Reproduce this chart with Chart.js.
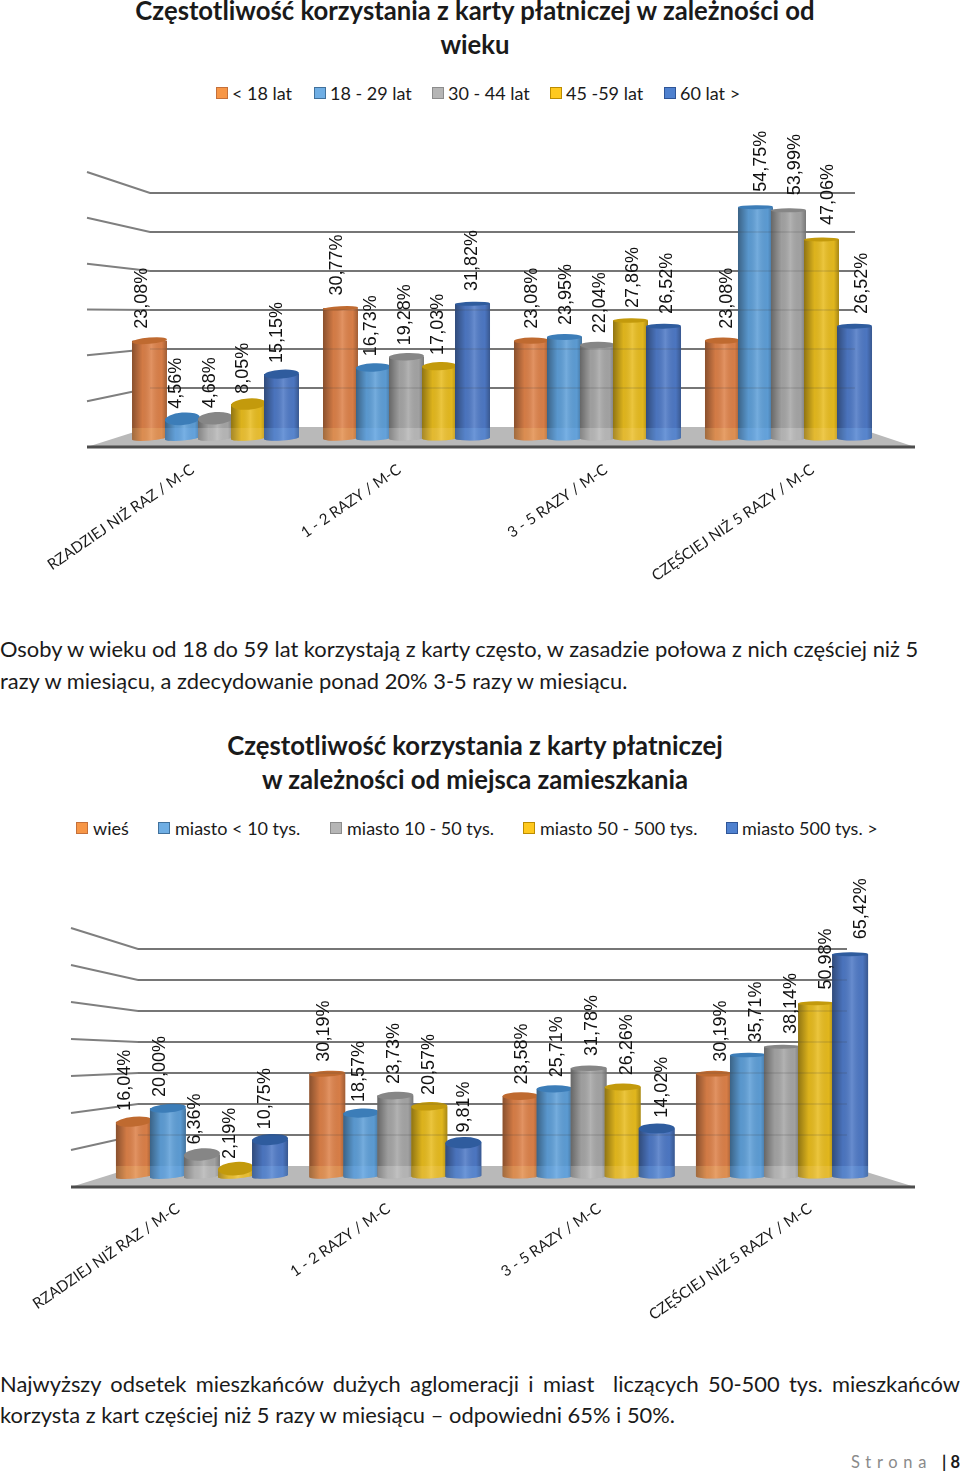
<!DOCTYPE html>
<html lang="pl">
<head>
<meta charset="utf-8">
<title>Częstotliwość korzystania z karty płatniczej</title>
<script src="https://cdn.jsdelivr.net/npm/chart.js@4/dist/chart.umd.min.js"></script>
<style>
html, body { margin: 0; padding: 0; background: #fff; }
#page { position: relative; width: 960px; height: 1473px; overflow: hidden; font-family: Lato, sans-serif; color: #1a1a1a; }
#page canvas { position: absolute; left: 0; }
.line { position: absolute; left: 0; width: 960px; white-space: nowrap; font-size: 21.9px; line-height: 30px; }
.title { text-align: center; font-weight: 700; font-size: 25.7px; line-height: 34px; width: 950px; }
.just { text-align: justify; text-align-last: justify; white-space: normal; }
.legend { position: absolute; height: 24px; white-space: nowrap; font-size: 18px; line-height: 24px; }
.legend span { position: absolute; top: 0; }
.legend i { position: absolute; top: 6px; width: 10px; height: 10px; border: 1.5px solid; }
#footer { position: absolute; top: 1451px; right: 0; font-size: 16.5px; line-height: 22px; color: #8a8a8a; letter-spacing: 5.7px; white-space: nowrap; }
#footer b { color: #1a1a1a; letter-spacing: 0; }
</style>
</head>
<body>
<div id="page">
  <div class="line title" style="top:-7px">Częstotliwość korzystania z karty płatniczej w zależności od</div>
  <div class="line title" style="top:27px">wieku</div>
  <div class="legend" id="legendAge" style="top:81px"></div>
  <canvas id="ageChart" width="960" height="480" style="top:120px"></canvas>
  <div class="line" style="top:634px">Osoby w wieku od 18 do 59 lat korzystają z karty często, w zasadzie połowa z nich częściej niż 5</div>
  <div class="line" style="top:666px">razy w miesiącu, a zdecydowanie ponad 20% 3-5 razy w miesiącu.</div>
  <div class="line title" style="top:728px">Częstotliwość korzystania z karty płatniczej</div>
  <div class="line title" style="top:762px">w zależności od miejsca zamieszkania</div>
  <div class="legend" id="legendPlace" style="top:816px"></div>
  <canvas id="placeChart" width="960" height="460" style="top:870px"></canvas>
  <div class="line just" style="top:1369px">Najwyższy odsetek mieszkańców dużych aglomeracji i miast &nbsp;liczących 50-500 tys. mieszkańców</div>
  <div class="line" style="top:1400px">korzysta z kart częściej niż 5 razy w miesiącu – odpowiedni 65% i 50%.</div>
  <div id="footer">Strona <b>| 8</b></div>
</div>

<script>
// DATA
const categories = ['RZADZIEJ NIŻ RAZ / M-C', '1 - 2 RAZY / M-C', '3 - 5 RAZY / M-C', 'CZĘŚCIEJ NIŻ 5 RAZY / M-C'];

const ageNames = ['< 18 lat', '18 - 29 lat', '30 - 44 lat', '45 -59 lat', '60 lat >'];
const ageUnder18 = [23.08, 30.77, 23.08, 23.08];
const age18to29 = [4.56, 16.73, 23.95, 54.75];
const age30to44 = [4.68, 19.28, 22.04, 53.99];
const age45to59 = [8.05, 17.03, 27.86, 47.06];
const age60plus = [15.15, 31.82, 26.52, 26.52];

const placeNames = ['wieś', 'miasto < 10 tys.', 'miasto 10 - 50 tys.', 'miasto 50 - 500 tys.', 'miasto 500 tys. >'];
const placeVillage = [16.04, 30.19, 23.58, 30.19];
const placeUnder10 = [20.00, 18.57, 25.71, 35.71];
const place10to50 = [6.36, 23.73, 31.78, 38.14];
const place50to500 = [2.19, 20.57, 26.26, 50.98];
const place500plus = [10.75, 9.81, 14.02, 65.42];

// COLOURS
const bodyColors = ['#DD8149', '#5E9FD8', '#A6A6A6', '#E8BC1E', '#4E79C6'];
const capColors = ['#BF6A30', '#3C7DB8', '#868686', '#C39A0C', '#2F5C9E'];
const boxColors = ['#F79646', '#6FAEE4', '#B5B5B5', '#FFC91E', '#4F81CF'];
const boxBorders = ['#C5703A', '#41719C', '#8C8C8C', '#BC8C00', '#2F5597'];

// one legend row, built from the dataset names
function buildLegend(id, names, boxLefts, textLefts) {
    const holder = document.getElementById(id);
    names.forEach((name, i) => {
        const box = document.createElement('i');
        box.style.left = boxLefts[i] + 'px';
        box.style.background = boxColors[i];
        box.style.borderColor = boxBorders[i];
        const text = document.createElement('span');
        text.style.left = textLefts[i] + 'px';
        text.textContent = name;
        holder.appendChild(box);
        holder.appendChild(text);
    });
}
buildLegend('legendAge', ageNames, [216, 314, 432, 550, 664], [232, 330, 448, 566, 680]);
buildLegend('legendPlace', placeNames, [76, 158, 330, 523, 726], [93, 175, 347, 540, 742]);

// back wall, floor, cylinders, value labels and slanted category labels
const cylinders = {
    id: 'cylinders',
    beforeDatasetsDraw(chart, args, o) {
        const c = chart.ctx, back = chart.scales.yBack;
        c.save();
        // floor
        c.fillStyle = '#B9B9B9';
        c.beginPath();
        c.moveTo(o.frontLeft, o.frontY);
        c.lineTo(o.backLeft, back.getPixelForValue(0));
        c.lineTo(o.backRight, back.getPixelForValue(0));
        c.lineTo(o.frontRight, o.frontY);
        c.closePath();
        c.fill();
        // wall lines
        c.strokeStyle = '#7F7F7F';
        c.lineWidth = 2;
        for (let v = 10; v <= o.top; v += 10) {
            const y = back.getPixelForValue(v);
            c.beginPath();
            c.moveTo(o.frontLeft, o.frontY - v * o.sideStep);
            c.lineTo(o.backLeft, y);
            c.lineTo(o.backRight, y);
            c.stroke();
        }
        c.strokeStyle = '#4D4D4D';
        c.lineWidth = 3;
        c.beginPath();
        c.moveTo(o.frontLeft, o.frontY);
        c.lineTo(o.frontRight, o.frontY);
        c.stroke();
        c.restore();
    },
    afterDatasetsDraw(chart, args, o) {
        const c = chart.ctx;
        const zero = chart.scales.y.getPixelForValue(0);
        chart.data.datasets.forEach((ds, d) => {
            chart.getDatasetMeta(d).data.forEach(bar => {
                const w = bar.width + 2, left = bar.x - w / 2, top = bar.y, h = zero - top;
                const ry = Math.max(2, 7 - h * 0.04);
                const tilt = -0.08 * Math.max(0, (540 - bar.x) / 400) - 0.01;
                c.save();
                // body with the bottom rounded off
                const shape = new Path2D();
                shape.ellipse(bar.x, zero, w / 2, 2.5, tilt, 0, Math.PI);
                shape.lineTo(left, top);
                shape.lineTo(left + w, top);
                shape.closePath();
                c.fillStyle = bodyColors[d];
                c.fill(shape);
                const side = c.createLinearGradient(left, 0, left + w, 0);
                side.addColorStop(0, 'rgba(0,0,0,0.38)');
                side.addColorStop(0.3, 'rgba(0,0,0,0.05)');
                side.addColorStop(0.55, 'rgba(255,255,255,0.14)');
                side.addColorStop(0.85, 'rgba(0,0,0,0.03)');
                side.addColorStop(1, 'rgba(0,0,0,0.28)');
                c.fillStyle = side;
                c.fill(shape);
                // lighter strip where the floor reflects
                c.save();
                c.clip(shape);
                c.fillStyle = 'rgba(255,215,130,0.20)';
                if (d === 1 || d === 4) c.fillStyle = 'rgba(130,190,255,0.22)';
                if (d === 2) c.fillStyle = 'rgba(255,255,255,0.20)';
                c.fillRect(left, zero - 10, w, 20);
                c.restore();
                // cap
                c.fillStyle = capColors[d];
                c.beginPath();
                c.ellipse(bar.x, top, w / 2, ry, tilt, 0, Math.PI * 2);
                c.fill();
                c.restore();
            });
        });
        // wall lines show faintly through the bars
        const back = chart.scales.yBack;
        c.save();
        c.strokeStyle = 'rgba(60,60,60,0.13)';
        c.lineWidth = 2;
        for (let v = 10; v <= o.top; v += 10) {
            const y = back.getPixelForValue(v);
            c.beginPath();
            c.moveTo(o.backLeft, y);
            c.lineTo(o.backRight, y);
            c.stroke();
        }
        c.restore();
    },
    afterDraw(chart, args, o) {
        const c = chart.ctx;
        const zero = chart.scales.y.getPixelForValue(0);
        c.save();
        c.fillStyle = '#111';
        c.font = '18px "Liberation Sans", sans-serif';
        c.textBaseline = 'middle';
        c.textAlign = 'left';
        chart.data.datasets.forEach((ds, d) => {
            chart.getDatasetMeta(d).data.forEach((bar, i) => {
                c.save();
                // taller bars keep their label a little further away
                c.translate(bar.x + (bar.x - o.spreadFrom) * o.spread + 1, bar.y - 9.5 - (zero - bar.y) * 0.025);
                c.rotate(-Math.PI / 2);
                c.fillText(ds.data[i].toFixed(2).replace('.', ',') + '%', 0, 0);
                c.restore();
            });
        });
        c.font = '15.1px Lato, sans-serif';
        c.fillStyle = '#1a1a1a';
        c.textAlign = 'right';
        c.textBaseline = 'middle';
        const xs = chart.scales.x;
        chart.data.labels.forEach((label, i) => {
            c.save();
            c.translate(xs.getPixelForTick(i) + o.labelShift + i * o.labelStep, o.labelY);
            c.rotate(-34.5 * Math.PI / 180);
            c.fillText(label, 0, 0);
            c.restore();
        });
        c.restore();
    }
};

function drawChart(id, series, yTop, left, right, groupShare, pageTop, back, extras) {
    const cv = document.getElementById(id);
    return new Chart(cv, {
        type: 'bar',
        data: {
            labels: categories,
            datasets: series.map((values, i) => ({
                label: extras.names[i],
                data: values,
                backgroundColor: bodyColors[i],
                barPercentage: 1,
                categoryPercentage: groupShare
            }))
        },
        options: {
            responsive: false,
            animation: false,
            layout: { padding: { left: left, right: 960 - right, top: yTop - pageTop, bottom: pageTop + cv.height - extras.zeroY } },
            scales: {
                x: { display: false },
                y: { display: false, min: 0, max: extras.yMax },
                yBack: { display: false, min: back.min, max: back.max }
            },
            plugins: {
                legend: { display: false },
                title: { display: false },
                tooltip: { enabled: false },
                cylinders: extras.look
            }
        },
        plugins: [cylinders]
    });
}

// age chart
drawChart('ageChart', [ageUnder18, age18to29, age30to44, age45to59, age60plus], 185, 120, 884, 0.864, 120,
    { min: -2.82, max: 62.05 },
    {
        names: ageNames, yMax: 60, zeroY: 438,
        look: { top: 60, frontLeft: 87, frontRight: 915, frontY: 327, backLeft: 150, backRight: 855, sideStep: 4.583,
            spread: 0.021, spreadFrom: 540, labelShift: -23, labelStep: 15.7, labelY: 348 }
    });

// place chart
drawChart('placeChart', [placeVillage, placeUnder10, place10to50, place50to500, place500plus], 938.8, 105.3, 878.7, 0.88, 870,
    { min: -3.23, max: 73.3 },
    {
        names: placeNames, yMax: 70, zeroY: 1176,
        look: { top: 70, frontLeft: 71, frontRight: 915, frontY: 317, backLeft: 138, backRight: 847, sideStep: 3.7,
            spread: 0.0265, spreadFrom: 490, labelShift: -24, labelStep: 17.3, labelY: 337 }
    });
</script>
</body>
</html>
